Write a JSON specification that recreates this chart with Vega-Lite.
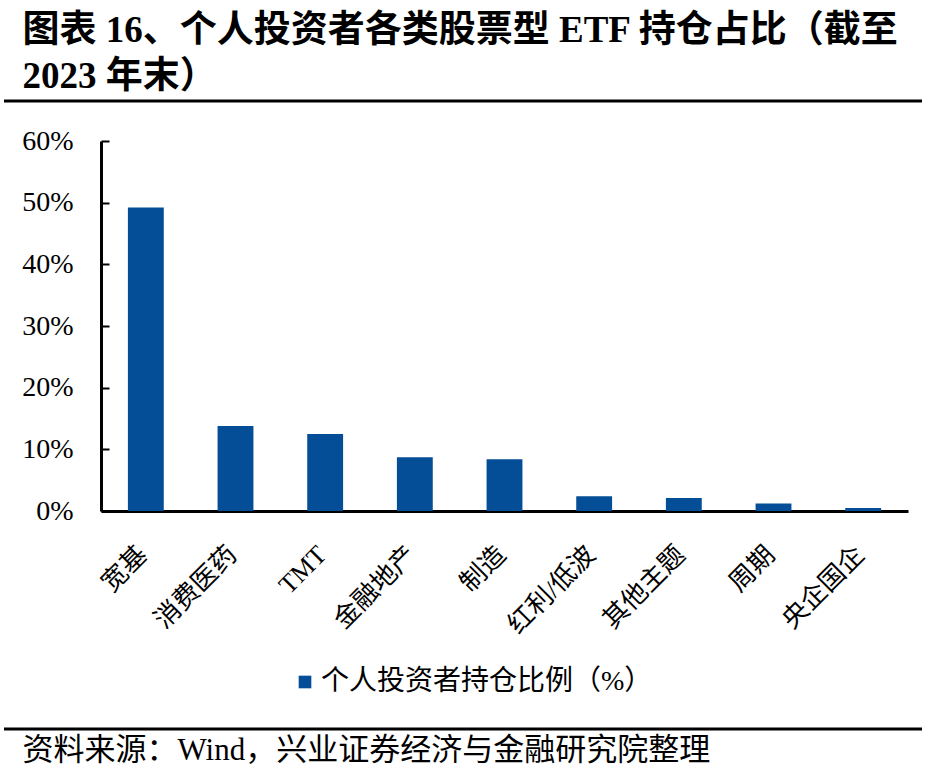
{
  "$schema": "https://vega.github.io/schema/vega-lite/v6.json",
  "background": "white",
  "padding": {"left": 2, "top": 11, "right": 10, "bottom": 0},
  "title": {
    "text": ["图表 16、个人投资者各类股票型 ETF 持仓占比（截至", "2023 年末）"],
    "anchor": "start",
    "dx": 20,
    "font": "Liberation Serif, Noto Sans CJK SC",
    "fontSize": 37,
    "fontWeight": "bold",
    "color": "#000000",
    "lineHeight": 46,
    "offset": 4
  },
  "datasets": {
    "holdings": [
      {"category": "宽基", "value": 0.492, "series": "个人投资者持仓比例（%）"},
      {"category": "消费医药", "value": 0.138, "series": "个人投资者持仓比例（%）"},
      {"category": "TMT", "value": 0.125, "series": "个人投资者持仓比例（%）"},
      {"category": "金融地产", "value": 0.087, "series": "个人投资者持仓比例（%）"},
      {"category": "制造", "value": 0.084, "series": "个人投资者持仓比例（%）"},
      {"category": "红利/低波", "value": 0.024, "series": "个人投资者持仓比例（%）"},
      {"category": "其他主题", "value": 0.021, "series": "个人投资者持仓比例（%）"},
      {"category": "周期", "value": 0.012, "series": "个人投资者持仓比例（%）"},
      {"category": "央企国企", "value": 0.005, "series": "个人投资者持仓比例（%）"}
    ],
    "headerRule": [{"pos": 1}],
    "footerRule": [{"pos": 0}],
    "none": []
  },
  "spacing": 0,
  "align": "none",
  "resolve": {"legend": {"color": "independent"}},
  "vconcat": [
    {
      "width": 918,
      "height": 26,
      "data": {"name": "headerRule"},
      "mark": {"type": "rule", "color": "#000000", "strokeWidth": 3},
      "encoding": {"y": {"field": "pos", "type": "quantitative", "scale": {"domain": [0, 1]}, "axis": null}}
    },
    {
      "spacing": 16,
      "resolve": {"legend": {"color": "independent"}},
      "hconcat": [
        {
          "width": 1,
          "height": 1,
          "data": {"name": "none"},
          "mark": {"type": "rule"},
          "encoding": {}
        },
        {
          "width": 807,
          "height": 370,
          "data": {"name": "holdings"},
          "mark": {"type": "bar"},
          "encoding": {
            "x": {
              "field": "category",
              "type": "nominal",
              "sort": null,
              "scale": {"paddingInner": 0.6, "paddingOuter": 0.3},
              "axis": {
                "title": null,
                "labelAngle": -45,
                "labelFont": "Liberation Serif, Noto Sans CJK SC",
                "labelFontSize": 26,
                "labelColor": "#000000",
                "labelPadding": 30,
                "labelOffset": -12,
                "ticks": false,
                "domainColor": "#000000",
                "domainWidth": 3
              }
            },
            "y": {
              "field": "value",
              "type": "quantitative",
              "scale": {"domain": [0, 0.6], "nice": false},
              "axis": {
                "title": null,
                "format": ".0%",
                "values": [0, 0.1, 0.2, 0.3, 0.4, 0.5, 0.6],
                "grid": false,
                "labelFont": "Liberation Serif",
                "labelFontSize": 28,
                "labelColor": "#000000",
                "labelPadding": 36,
                "tickSize": -8,
                "tickColor": "#000000",
                "tickWidth": 2,
                "domainColor": "#000000",
                "domainWidth": 3
              }
            },
            "color": {
              "field": "series",
              "type": "nominal",
              "scale": {"range": ["#034E96"]},
              "legend": {
                "title": null,
                "orient": "none",
                "legendX": 190,
                "legendY": 527,
                "direction": "horizontal",
                "symbolType": "square",
                "symbolSize": 160,
                "symbolStrokeWidth": 0,
                "symbolOffset": 0,
                "labelFont": "Liberation Serif, Noto Sans CJK SC",
                "labelFontSize": 28,
                "labelColor": "#000000",
                "labelLimit": 600,
                "labelOffset": 2
              }
            }
          }
        }
      ]
    },
    {
      "width": 918,
      "height": 33,
      "data": {"name": "footerRule"},
      "mark": {"type": "rule", "color": "#000000", "strokeWidth": 3},
      "encoding": {"y": {"field": "pos", "type": "quantitative", "scale": {"domain": [0, 1]}, "axis": null}},
      "title": {
        "text": "资料来源：Wind，兴业证券经济与金融研究院整理",
        "orient": "bottom",
        "anchor": "start",
        "dx": 20,
        "font": "Liberation Serif, Noto Sans CJK SC",
        "fontSize": 31,
        "fontWeight": "normal",
        "color": "#000000",
        "offset": 5
      }
    }
  ],
  "config": {
    "view": {"stroke": null},
    "concat": {"spacing": 0}
  }
}
